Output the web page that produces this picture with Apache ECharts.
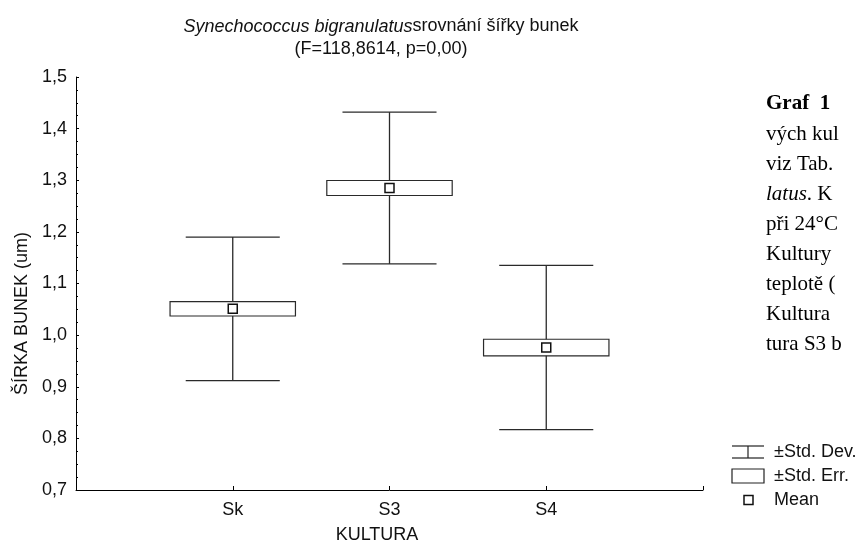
<!DOCTYPE html>
<html>
<head>
<meta charset="utf-8">
<script src="https://cdn.jsdelivr.net/npm/echarts@6/dist/echarts.min.js"></script>
<style>
  html, body { margin: 0; padding: 0; background: #ffffff; }
  #chart { width: 862px; height: 544px; }
</style>
</head>
<body>
<div id="chart"></div>
<script>
// Culture groups and cell-width statistics (µm)
const categories = ['Sk', 'S3', 'S4'];
const means = [1.051, 1.285, 0.976];
const stdErr = [0.014, 0.0145, 0.016];
const stdDev = [0.139, 0.147, 0.159];

const yTicks = { min: 0.7, max: 1.5, step: 0.1 };

const FONT = 'Liberation Sans, Arial, sans-serif';
const SERIF = 'Liberation Serif, Times New Roman, serif';
const FS = 18;

const chart = echarts.init(document.getElementById('chart'), null, { renderer: 'canvas' });

const seriesData = categories.map((c, i) => [i + 1, means[i], stdErr[i], stdDev[i]]);

// Whisker (mean ± SD), box (mean ± SE) and a square marker at the mean
function renderBox(params, api) {
  const x = api.value(0);
  const m = api.value(1);
  const se = api.value(2);
  const sd = api.value(3);
  const capHalf = 0.3, boxHalf = 0.4;
  const top = api.coord([x, m + sd]);
  const bot = api.coord([x, m - sd]);
  const capL = api.coord([x - capHalf, m])[0];
  const capR = api.coord([x + capHalf, m])[0];
  const bTL = api.coord([x - boxHalf, m + se]);
  const bBR = api.coord([x + boxHalf, m - se]);
  const c = api.coord([x, m]);
  const line = { stroke: '#2a2a2a', lineWidth: 1.3 };
  return {
    type: 'group',
    children: [
      { type: 'line', shape: { x1: top[0], y1: top[1], x2: bot[0], y2: bot[1] }, style: line },
      { type: 'line', shape: { x1: capL, y1: top[1], x2: capR, y2: top[1] }, style: line },
      { type: 'line', shape: { x1: capL, y1: bot[1], x2: capR, y2: bot[1] }, style: line },
      { type: 'rect', shape: { x: bTL[0], y: bTL[1], width: bBR[0] - bTL[0], height: bBR[1] - bTL[1] },
        style: { fill: '#fff', stroke: '#2a2a2a', lineWidth: 1.2 } },
      { type: 'rect', shape: { x: c[0] - 4.5, y: c[1] - 4.5, width: 9, height: 9 },
        style: { fill: '#fff', stroke: '#111', lineWidth: 1.5 } }
    ]
  };
}

// Legend glyphs and the accompanying document caption
const legendX = 732, legendTextX = 774;
const legendRows = [452, 476, 500];
const legendLabels = ['±Std. Dev.', '±Std. Err.', 'Mean'];
const docLines = [
  '{b|Graf  1}',
  'vých kul',
  'viz Tab.',
  '{i|latus}. K',
  'při 24°C',
  'Kultury',
  'teplotě (',
  'Kultura',
  'tura S3 b'
];

const graphics = [];
graphics.push(
  { type: 'line', shape: { x1: legendX, y1: legendRows[0] - 6, x2: legendX + 32, y2: legendRows[0] - 6 }, style: { stroke: '#222', lineWidth: 1.2 } },
  { type: 'line', shape: { x1: legendX + 16, y1: legendRows[0] - 6, x2: legendX + 16, y2: legendRows[0] + 6 }, style: { stroke: '#222', lineWidth: 1.2 } },
  { type: 'line', shape: { x1: legendX, y1: legendRows[0] + 6, x2: legendX + 32, y2: legendRows[0] + 6 }, style: { stroke: '#222', lineWidth: 1.2 } },
  { type: 'rect', shape: { x: legendX, y: legendRows[1] - 7, width: 32, height: 14 }, style: { fill: '#fff', stroke: '#222', lineWidth: 1.2 } },
  { type: 'rect', shape: { x: legendX + 12, y: legendRows[2] - 4.5, width: 9, height: 9 }, style: { fill: '#fff', stroke: '#111', lineWidth: 1.5 } }
);
legendLabels.forEach((t, i) => {
  graphics.push({ type: 'text', x: legendTextX, y: legendRows[i],
    style: { text: t, font: FS + 'px ' + FONT, fill: '#111', verticalAlign: 'middle' } });
});
docLines.forEach((t, i) => {
  graphics.push({ type: 'text', x: 766, y: 104 + i * 30,
    style: { text: t, font: '21px ' + SERIF, fill: '#000', verticalAlign: 'middle',
      rich: {
        b: { fontWeight: 'bold', fontSize: 21, fontFamily: SERIF, fill: '#000' },
        i: { fontStyle: 'italic', fontSize: 21, fontFamily: SERIF, fill: '#000' }
      } } });
});

chart.setOption({
  animation: false,
  backgroundColor: '#ffffff',
  title: {
    text: '{i|Synechococcus bigranulatus}srovnání šířky bunek\n(F=118,8614, p=0,00)',
    left: 376,
    top: 10,
    textAlign: 'center',
    textStyle: {
      fontFamily: FONT, fontSize: FS, fontWeight: 'normal', color: '#111', lineHeight: 23,
      rich: { i: { fontStyle: 'italic', fontFamily: FONT, fontSize: FS, color: '#111', lineHeight: 23 } }
    }
  },
  grid: { left: 76, right: 159, top: 77, bottom: 54, containLabel: false, outerBoundsMode: 'none' },
  xAxis: {
    type: 'value', min: 0, max: 4, interval: 1,
    name: 'KULTURA', nameLocation: 'middle', nameGap: 36,
    nameTextStyle: { fontFamily: FONT, fontSize: FS, color: '#111', padding: [0, 25, 0, 0] },
    axisLine: { show: true, lineStyle: { color: '#000', width: 1 } },
    axisTick: { show: true, inside: true, length: 4, lineStyle: { color: '#000' } },
    axisLabel: {
      fontFamily: FONT, fontSize: FS, color: '#111', margin: 11,
      formatter: v => categories[Math.round(v) - 1] || ''
    },
    splitLine: { show: false }
  },
  yAxis: {
    type: 'value', min: yTicks.min, max: yTicks.max, interval: yTicks.step,
    name: 'ŠÍRKA BUNEK (um)', nameLocation: 'middle', nameGap: 45, nameRotate: 90,
    nameTextStyle: { fontFamily: FONT, fontSize: FS, color: '#111', padding: [0, 60, 0, 0] },
    axisLine: { show: true, lineStyle: { color: '#000', width: 1 } },
    axisTick: { show: true, inside: true, length: 3, lineStyle: { color: '#000' } },
    minorTick: { show: true, splitNumber: 4, length: 2, lineStyle: { color: '#000' } },
    axisLabel: {
      fontFamily: FONT, fontSize: FS, color: '#111', margin: 9,
      formatter: v => v.toFixed(1).replace('.', ',')
    },
    splitLine: { show: false }
  },
  series: [{
    type: 'custom',
    renderItem: renderBox,
    encode: { x: 0, y: [1] },
    data: seriesData,
    clip: false
  }],
  graphic: graphics
});
</script>
</body>
</html>
